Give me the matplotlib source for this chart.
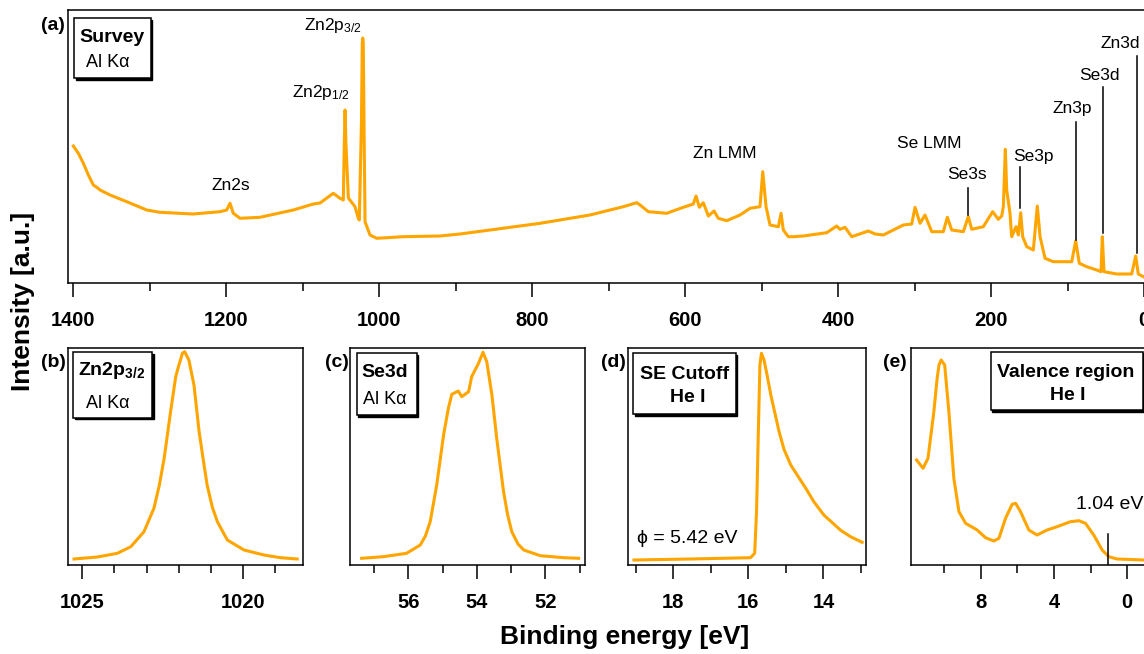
import matplotlib
matplotlib.use('Agg')
import matplotlib.pyplot as plt
from matplotlib.patches import Rectangle
from matplotlib.ticker import MultipleLocator

plt.rcParams['font.family'] = ['Liberation Sans', 'DejaVu Sans']
plt.rcParams['mathtext.default'] = 'regular'

ORANGE = '#FFA500'

# ---------------- data ----------------
survey_be = [1399.6, 1393.1, 1386.5, 1380.0, 1373.5, 1369.0, 1364.7, 1351.6, 1329.8, 1303.7, 1286.3, 1243.1, 1207.8,
             1199.1, 1194.8, 1190.5, 1181.7, 1155.6, 1112.0, 1085.9, 1077.1, 1059.8, 1051.0,
             1046.7, 1045.4, 1044.4, 1043.3, 1040.1, 1031.4, 1027.1, 1025.8, 1023.0, 1021.9,
             1021.3, 1020.6, 1019.5, 1018.3, 1011.8, 1003.0, 968.2, 920.3, 894.1, 854.9,
             789.5, 724.2, 680.7, 663.1, 658.8, 648.0, 624.0, 602.2, 589.2, 585.6,
             581.3, 576.1, 569.5, 562.1, 556.5, 545.5, 528.1, 515.0, 502.0, 498.4,
             494.1, 488.9, 478.0, 474.5, 471.5, 465.0, 458.4, 445.4, 414.8, 401.7,
             397.4, 390.8, 382.1, 360.4, 351.6, 340.8, 314.6, 303.7, 299.3, 292.8,
             286.3, 277.5, 262.4, 257.1, 251.4, 236.2, 229.7, 225.2, 210.1, 197.8,
             190.5, 186.0, 183.9, 181.3, 179.5, 175.2, 173.0, 167.3, 164.3, 161.2,
             158.6, 153.3, 144.7, 139.5, 135.9, 129.4, 118.6, 105.5, 94.5, 89.3,
             84.6, 74.9, 61.8, 56.2, 54.5, 52.3, 35.7, 16.1, 10.9, 7.5,
             0.9]
survey_int = [137, 129.7, 119.7, 108, 98, 95.7, 93, 88, 81.3, 73, 70.7, 69, 71.3,
              73, 79.7, 69.7, 64.7, 65.7, 73, 79, 80, 89.7, 84.7,
              83, 140, 173, 140, 85, 76.3, 64.7, 63, 160, 240,
              245, 240, 150, 61.3, 48, 44.7, 46.3, 47, 49, 53,
              59.7, 68, 76.3, 80.3, 78, 71.3, 69.7, 75.7, 79, 87,
              75.7, 80.3, 67, 72, 64.7, 62.3, 68, 74.7, 76.3, 111.3,
              76.3, 58, 56.3, 69.7, 53, 46.3, 46.3, 47, 50.3, 57,
              53.7, 55.7, 46.3, 52, 49, 48, 58, 59, 75.7, 59.7,
              68, 51.3, 51.3, 65.7, 53, 51.3, 66.3, 53.7, 56.3, 71.3,
              63.7, 67, 76.3, 133.7, 93, 69.7, 46.3, 56.3, 48, 70.3,
              46.3, 36.3, 33, 77, 46.3, 24.7, 21.3, 21.3, 21.3, 42,
              19.7, 16.3, 13, 11.3, 46.3, 11.3, 9, 9, 27, 9,
              6.3]

# peak labels in the survey: text, BE position, baseline height
peak_labels = ['Zn2p$_{3/2}$', 'Zn2p$_{1/2}$', 'Zn2s', 'Zn LMM', 'Se LMM',
               'Se3s', 'Se3p', 'Zn3p', 'Se3d', 'Zn3d']
peak_label_be = [1060.8, 1075.4, 1194.4, 548.2, 280.4, 231.0, 144.2, 93.7, 58.4, 31.4]
peak_label_h = [253, 186.3, 93, 124.7, 135.3, 103.7, 122.3, 170.3, 203, 234.7]

# marker lines in the survey: BE, low, high
marker_be = [229.7, 162.1, 88.9, 54.0, 8.8]
marker_lo = [68, 74.7, 43, 49.7, 29.7]
marker_hi = [94.7, 116.3, 161.3, 195.7, 227]

b_be = [1025.26, 1024.53, 1023.91, 1023.49, 1023.08, 1022.77, 1022.60, 1022.45, 1022.25, 1022.09, 1021.99,
        1021.88, 1021.81, 1021.68, 1021.52, 1021.36, 1021.22, 1021.11, 1020.95, 1020.79, 1020.48, 1019.96, 1019.34,
        1018.82, 1018.30]
b_int = [6, 8, 11.7, 18.3, 33.3, 56.7, 80, 106.7, 153.3, 188.3, 200,
         211.7, 213.3, 205, 180, 133.3, 103, 80, 58, 43.3, 25, 15, 10,
         7.3, 6]

c_be = [57.36, 56.73, 56.05, 55.65, 55.50, 55.36, 55.17, 54.97, 54.83, 54.73, 54.54,
        54.44, 54.24, 54.15, 53.95, 53.82, 53.71, 53.56, 53.42, 53.22, 53.10, 52.98,
        52.80, 52.63, 52.15, 51.46, 51.03]
c_int = [6.7, 8.3, 11.7, 20, 29, 43.3, 80, 130, 156.7, 170.7, 174,
         168.3, 173.3, 188.3, 201.7, 212.7, 203.3, 170, 126.7, 73.3, 50, 33.3,
         21, 15, 9.3, 7.3, 6.7]

d_be = [19.04, 17.53, 15.94, 15.83, 15.78, 15.73, 15.69, 15.65, 15.58, 15.49, 15.40,
        15.18, 15.05, 14.87, 14.47, 14.25, 13.99, 13.55, 13.28, 12.97]
d_int = [5, 6, 7.3, 11.7, 53.3, 136.7, 200, 211.7, 205, 188, 170,
         133.3, 115.7, 100, 76.7, 63, 50, 35, 28.3, 22.7]

e_be = [11.49, 11.14, 10.87, 10.55, 10.37, 10.27, 10.15, 9.96, 9.73, 9.46, 9.18,
        8.82, 8.19, 7.73, 7.28, 7.00, 6.64, 6.28, 6.09, 5.82, 5.37,
        4.92, 4.37, 3.83, 3.10, 2.64, 2.28, 1.83, 1.37, 1.01, 0.56,
        -0.90]
e_int = [105, 96.7, 106.7, 153.3, 186.7, 200, 205, 200, 153.3, 86.7, 53.3,
         41.7, 35, 27.3, 24, 26.7, 46.7, 60.7, 61.7, 53.3, 35,
         30, 35, 38.3, 43.3, 44.3, 41.7, 30, 15, 8.3, 6,
         5]

vbm_value = 1.04
vbm_label = '1.04 eV'
wf_label = 'ϕ = 5.42 eV'

# ---------------- layout ----------------
W, H = 1144, 654
fig = plt.figure(figsize=(W / 100, H / 100), dpi=100)


def rect(l, t, r, b):
    return [l / W, 1 - b / H, (r - l) / W, (b - t) / H]


def fx(x):
    return x / W


def fy(y):
    return 1 - y / H


TICK_FS = 14.5
LW = 2.2


def style(ax, major, minor, xlim, ylim):
    ax.set_xlim(*xlim)
    ax.set_ylim(*ylim)
    ax.xaxis.set_major_locator(MultipleLocator(major))
    ax.xaxis.set_minor_locator(MultipleLocator(minor))
    ax.tick_params(axis='x', which='major', direction='out', length=10, width=1.1,
                   pad=10, labelsize=TICK_FS)
    ax.tick_params(axis='x', which='minor', direction='out', length=5.5, width=1.1)
    ax.tick_params(axis='y', left=False, labelleft=False, which='both')
    for lab in ax.get_xticklabels():
        lab.set_fontweight('bold')
    for s in ax.spines.values():
        s.set_linewidth(1.1)
    ax.set_facecolor('none')


def box(l, t, r, b):
    sh = Rectangle((fx(l + 1.5), fy(b + 1.5)), (r - l) / W, (b - t) / H,
                   transform=fig.transFigure, facecolor='black', edgecolor='black',
                   lw=1.0, zorder=5)
    bx = Rectangle((fx(l), fy(b)), (r - l) / W, (b - t) / H,
                   transform=fig.transFigure, facecolor='white', edgecolor='black',
                   lw=1.1, zorder=6)
    fig.patches.extend([sh, bx])


def ftext(x, y, s, size, weight='normal', ha='center', va='baseline'):
    fig.text(fx(x), fy(y), s, fontsize=size, fontweight=weight, ha=ha, va=va, zorder=7)


# ---- (a) survey ----
ax_a = fig.add_axes(rect(68.3, 10, 1148, 283))
ax_a.plot(survey_be, survey_int, color=ORANGE, lw=LW, solid_joinstyle='round')
style(ax_a, 200, 100, (1406.2, -5.2), (0, 273))
for txt, be, h in zip(peak_labels, peak_label_be, peak_label_h):
    ax_a.text(be, h, txt, ha='center', va='baseline', fontsize=12.5)
for be, lo, hi in zip(marker_be, marker_lo, marker_hi):
    ax_a.plot([be, be], [lo, hi], color='black', lw=1.1)

box(74, 18.3, 150.7, 78.3)
ftext(112.2, 41.7, 'Survey', 14, 'bold')
ftext(107.5, 66.7, 'Al Kα', 13)
ftext(53.3, 25, '(a)', 14, 'bold', va='center')

# ---- bottom panels ----
top, bot = 347.7, 565

ax_b = fig.add_axes(rect(68, top, 303.3, bot))
ax_b.plot(b_be, b_int, color=ORANGE, lw=LW, solid_joinstyle='round')
style(ax_b, 5, 1, (1025.45, 1018.11), (0, bot - top))
box(73.3, 352.3, 152.3, 417.7)
ftext(111.8, 375, 'Zn2p$_{3/2}$', 14, 'bold')
ftext(107.7, 407.7, 'Al Kα', 13)
ftext(53.6, 362, '(b)', 14, 'bold', va='center')

ax_c = fig.add_axes(rect(350, top, 584.8, bot))
ax_c.plot(c_be, c_int, color=ORANGE, lw=LW, solid_joinstyle='round')
style(ax_c, 2, 1, (57.7, 50.85), (0, bot - top))
box(356.7, 353.3, 416.7, 415)
ftext(384.8, 376.7, 'Se3d', 14, 'bold')
ftext(384.5, 404.3, 'Al Kα', 13)
ftext(336.5, 362, '(c)', 14, 'bold', va='center')

ax_d = fig.add_axes(rect(628, top, 866.3, bot))
ax_d.plot(d_be, d_int, color=ORANGE, lw=LW, solid_joinstyle='round')
style(ax_d, 2, 1, (19.2, 12.86), (0, bot - top))
box(633.3, 353.3, 735.7, 414.3)
ftext(684.5, 379.3, 'SE Cutoff', 14, 'bold')
ftext(688.2, 401.7, 'He I', 14, 'bold')
ftext(613.5, 362, '(d)', 14, 'bold', va='center')
ax_d.text(18.95, 26.7, wf_label, ha='left', va='center', fontsize=14,
          family=['Liberation Sans', 'DejaVu Sans'])

ax_e = fig.add_axes(rect(911.3, top, 1148, bot))
ax_e.plot(e_be, e_int, color=ORANGE, lw=LW, solid_joinstyle='round')
style(ax_e, 4, 2, (11.78, -1.13), (0, bot - top))
ax_e.plot([vbm_value, vbm_value], [0, 30.7], color='black', lw=1.1)
ax_e.text(2.82, 60.7, vbm_label, ha='left', va='center', fontsize=14)
box(990.7, 351.7, 1143, 410)
ftext(1066, 377.3, 'Valence region', 14, 'bold')
ftext(1067.5, 400, 'He I', 14, 'bold')
ftext(894.8, 362, '(e)', 14, 'bold', va='center')

# ---- axis titles ----
fig.text(fx(23), fy(301.5), 'Intensity [a.u.]', rotation=90, fontsize=19,
         fontweight='bold', ha='center', va='center')
fig.text(fx(624.6), fy(637), 'Binding energy [eV]', fontsize=19,
         fontweight='bold', ha='center', va='center')

fig.savefig('out.png', dpi=100)
